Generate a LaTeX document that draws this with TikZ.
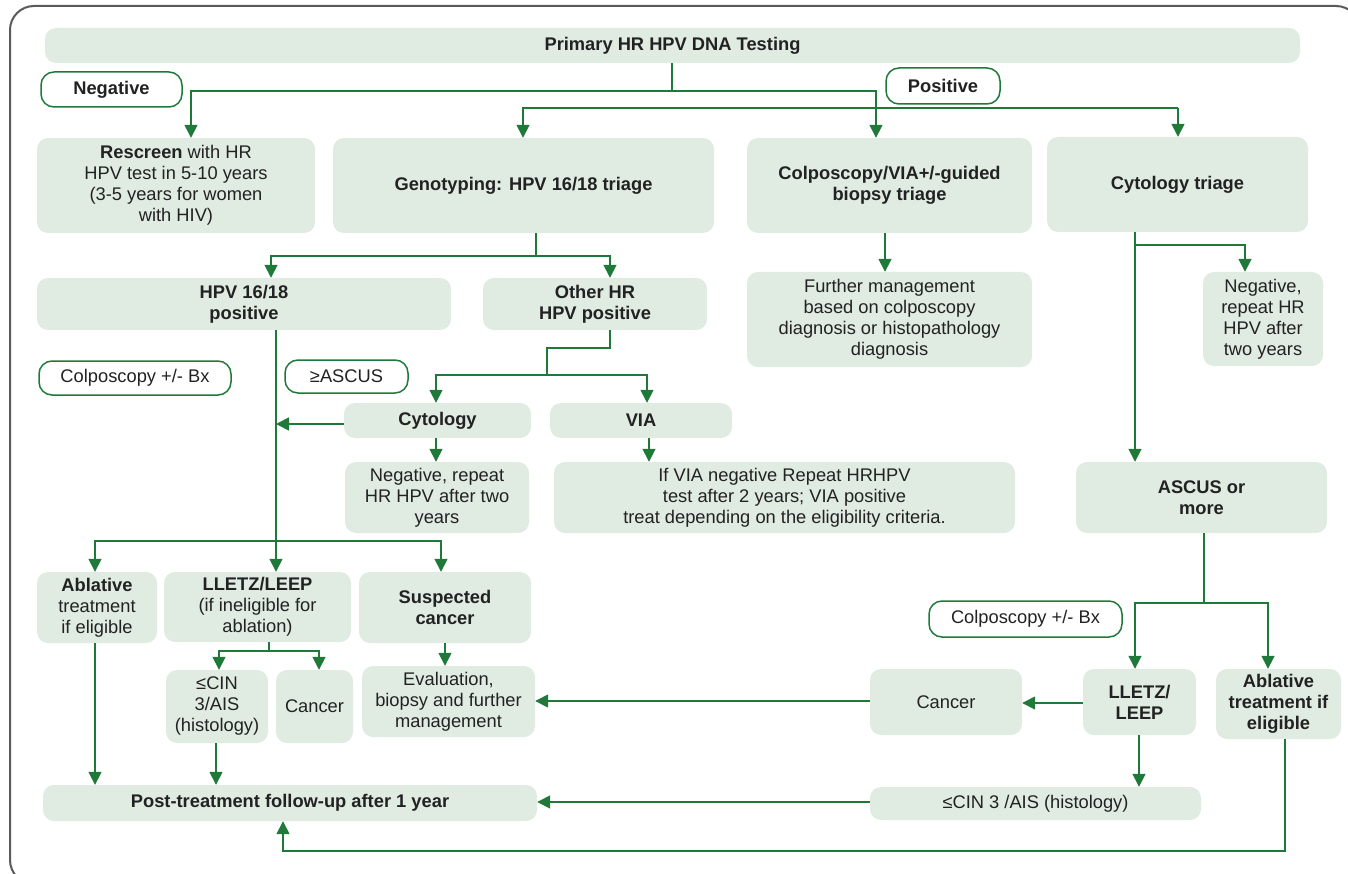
\documentclass[tikz,border=0pt]{standalone}
\usepackage{fontspec}
\setmainfont{Liberation Sans}
\usetikzlibrary{arrows.meta}
\definecolor{boxfill}{HTML}{E0EBE2}
\definecolor{grn}{HTML}{1F7A3A}
\definecolor{txt}{HTML}{222222}
\definecolor{frame}{HTML}{5A5A5A}
\newcommand{\mybox}[7]{\node[#6, minimum width={(#4-#2)*1pt}, minimum height={(#5-#3)*1pt}] (#1) at ({(#2+#4)/2},{(#3+#5)/2}) {#7};}
\begin{document}
\begin{tikzpicture}[x=1pt,y=-1pt,
  box/.style={rectangle, rounded corners=11pt, fill=boxfill, draw=none, align=center, text=txt, inner sep=0pt, font=\fontsize{18.3}{21}\selectfont},
  lbl/.style={rectangle, rounded corners=13pt, fill=white, draw=grn, line width=1.5pt, align=center, text=txt, inner sep=0pt, font=\fontsize{18.3}{21}\selectfont},
  ln/.style={draw=grn, line width=1.6pt},
  arr/.style={draw=grn, line width=1.6pt, -{Triangle[width=13pt,length=13pt]}}]
\useasboundingbox (0,0) rectangle (1348,874);
\draw[frame, line width=2pt, rounded corners=24pt] (10,6) rectangle (1360,884);
% boxes
\mybox{Prim}{45}{28}{1300}{63}{box}{\textbf{Primary HR HPV DNA Testing}}
\mybox{Neg}{41}{72}{182}{107}{lbl}{\textbf{Negative}}
\mybox{Pos}{886}{68}{1000}{104}{lbl}{\textbf{Positive}}
\mybox{Resc}{37}{138}{315}{233}{box}{\textbf{Rescreen} with HR\\HPV test in 5-10 years\\(3-5 years for women\\with HIV)}
\mybox{Geno}{333}{138}{714}{233}{box}{\textbf{Genotyping: HPV 16/18 triage}}
\mybox{Colpo}{747}{138}{1032}{233}{box}{\textbf{Colposcopy/VIA+/-guided}\\\textbf{biopsy triage}}
\mybox{CytT}{1047}{137}{1308}{232}{box}{\textbf{Cytology triage}}
\mybox{Hpv}{37}{278}{451}{330}{box}{\textbf{HPV 16/18}\\\textbf{positive}}
\mybox{Other}{483}{278}{707}{330}{box}{\textbf{Other HR}\\\textbf{HPV positive}}
\mybox{Further}{747}{272}{1032}{367}{box}{Further management\\based on colposcopy\\diagnosis or histopathology\\diagnosis}
\mybox{NegR}{1203}{272}{1323}{366}{box}{Negative,\\repeat HR\\HPV after\\two years}
\mybox{ColLa}{39}{361}{231}{395}{lbl}{Colposcopy +/- Bx}
\mybox{Asc}{285}{360}{408}{393}{lbl}{≥ASCUS}
\mybox{Cyto}{344}{403}{531}{438}{box}{\textbf{Cytology}}
\mybox{Via}{550}{403}{732}{438}{box}{\textbf{VIA}}
\mybox{NegC}{345}{462}{529}{533}{box}{Negative, repeat\\HR HPV after two\\years}
\mybox{ViaT}{554}{462}{1015}{533}{box}{If VIA negative Repeat HRHPV\\test after 2 years; VIA positive\\treat depending on the eligibility criteria.}
\mybox{Ascus}{1076}{462}{1327}{533}{box}{\textbf{ASCUS or}\\\textbf{more}}
\mybox{AblL}{37}{572}{157}{643}{box}{\textbf{Ablative}\\treatment\\if eligible}
\mybox{LlL}{164}{572}{351}{642}{box}{\textbf{LLETZ/LEEP}\\(if ineligible for\\ablation)}
\mybox{Susp}{359}{572}{531}{643}{box}{\textbf{Suspected}\\\textbf{cancer}}
\mybox{CinL}{166}{670}{268}{743}{box}{≤CIN\\3/AIS\\(histology)}
\mybox{CanL}{276}{670}{353}{743}{box}{Cancer}
\mybox{Eval}{362}{666}{535}{737}{box}{Evaluation,\\biopsy and further\\management}
\mybox{Post}{43}{785}{537}{821}{box}{\textbf{Post-treatment follow-up after 1 year}}
\mybox{ColLb}{929}{601}{1122}{637}{lbl}{Colposcopy +/- Bx}
\mybox{LlR}{1083}{669}{1196}{735}{box}{\textbf{LLETZ/}\\\textbf{LEEP}}
\mybox{AblR}{1216}{669}{1341}{739}{box}{\textbf{Ablative}\\\textbf{treatment if}\\\textbf{eligible}}
\mybox{CanR}{870}{669}{1022}{735}{box}{Cancer}
\mybox{CinR}{870}{787}{1201}{820}{box}{≤CIN 3 /AIS (histology)}
% junctions
\coordinate (j1) at (672,91);
\coordinate (j2) at (191,91);
\coordinate (j3) at (876,91);
\coordinate (j4) at (523,108);
\coordinate (j5) at (1178,108);
\coordinate (g) at (536,256);
\coordinate (g1) at (271,256);
\coordinate (g2) at (610,256);
\coordinate (cx) at (885,0);
\coordinate (k) at (1135,245);
\coordinate (k2) at (1245,245);
\coordinate (o1) at (610,348);
\coordinate (o2) at (547,348);
\coordinate (o3) at (547,375);
\coordinate (o4) at (436,375);
\coordinate (o5) at (647,375);
\coordinate (v) at (649,0);
\coordinate (cy) at (0,424);
\coordinate (h) at (276,541);
\coordinate (h1) at (95,541);
\coordinate (h3) at (441,541);
\coordinate (l) at (269,651);
\coordinate (l1) at (219,651);
\coordinate (l2) at (319,651);
\coordinate (s) at (445,0);
\coordinate (ci) at (216,0);
\coordinate (a) at (1204,603);
\coordinate (a1) at (1135,603);
\coordinate (a2) at (1268,603);
\coordinate (lr) at (1139,0);
\coordinate (r1) at (0,703);
\coordinate (r2) at (0,701);
\coordinate (r3) at (0,802);
\coordinate (p) at (1285,851);
\coordinate (p1) at (283,851);
% connectors
\draw[arr] (Prim.south -| j1) -- (j1) -- (j2) -- (Resc.north -| j2);
\draw[arr] (j1) -- (j3) -- (Colpo.north -| j3);
\draw[arr] (j5) -- (j4) -- (Geno.north -| j4);
\draw[arr] (j5) -- (CytT.north -| j5);
\draw[ln] (Geno.south -| g) -- (g);
\draw[arr] (g) -- (g1) -- (Hpv.north -| g1);
\draw[arr] (g) -- (g2) -- (Other.north -| g2);
\draw[arr] (Colpo.south -| cx) -- (Further.north -| cx);
\draw[arr] (CytT.south -| k) -- (Ascus.north -| k);
\draw[arr] (k) -- (k2) -- (NegR.north -| k2);
\draw[ln] (Other.south -| o1) -- (o1) -- (o2) -- (o3);
\draw[arr] (o3) -- (o4) -- (Cyto.north -| o4);
\draw[arr] (o3) -- (o5) -- (Via.north -| o5);
\draw[arr] (Cyto.south -| o4) -- (NegC.north -| o4);
\draw[arr] (Via.south -| v) -- (ViaT.north -| v);
\draw[ln] (Hpv.south -| h) -- (h);
\draw[arr] (Cyto.west |- cy) -- (h |- cy);
\draw[arr] (h) -- (h1) -- (AblL.north -| h1);
\draw[arr] (h) -- (LlL.north -| h);
\draw[arr] (h) -- (h3) -- (Susp.north -| h3);
\draw[ln] (LlL.south -| l) -- (l);
\draw[arr] (l) -- (l1) -- (CinL.north -| l1);
\draw[arr] (l) -- (l2) -- (CanL.north -| l2);
\draw[arr] (Susp.south -| s) -- (Eval.north -| s);
\draw[arr] (AblL.south -| h1) -- (Post.north -| h1);
\draw[arr] (CinL.south -| ci) -- (Post.north -| ci);
\draw[ln] (Ascus.south -| a) -- (a);
\draw[arr] (a) -- (a1) -- (LlR.north -| a1);
\draw[arr] (a) -- (a2) -- (AblR.north -| a2);
\draw[arr] (LlR.west |- r1) -- (CanR.east |- r1);
\draw[arr] (CanR.west |- r2) -- (Eval.east |- r2);
\draw[arr] (LlR.south -| lr) -- (CinR.north -| lr);
\draw[arr] (CinR.west |- r3) -- (Post.east |- r3);
\draw[arr] (AblR.south -| p) -- (p) -- (p1) -- (Post.south -| p1);
\end{tikzpicture}
\end{document}
